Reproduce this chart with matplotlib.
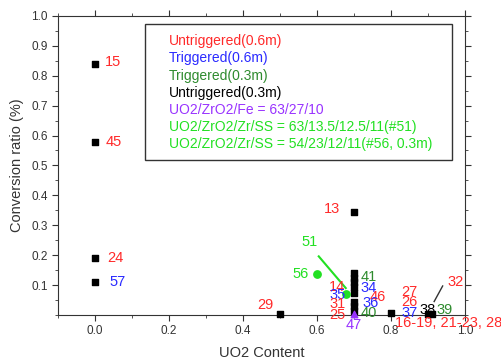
import numpy as np
import matplotlib.pyplot as plt
from matplotlib.ticker import MultipleLocator

plt.rcParams['font.family'] = ['Liberation Sans', 'DejaVu Sans']

# black square points (UO2 content, conversion ratio)
sq_x = [0.0, 0.0, 0.0, 0.0, 0.5, 0.7, 0.7, 0.7, 0.7, 0.7, 0.7, 0.7, 0.7, 0.7, 0.8, 0.9, 0.91]
sq_y = [0.84, 0.577, 0.19, 0.11, 0.004, 0.345, 0.14, 0.125, 0.11, 0.095, 0.075, 0.045, 0.03, 0.015, 0.008, 0.003, 0.003]

# special compositions
fe_x, fe_y = [0.7], [0.005]              # UO2/ZrO2/Fe (#47)
ss_x, ss_y = [0.6, 0.68], [0.137, 0.07]  # UO2/ZrO2/Zr/SS (#56, #51)

# point labels: text, x, y, colour
red, blue, dgreen, purple, lgreen = '#ff2a2a', '#2a2aff', '#2e8b2e', '#9933ff', '#22e022'
labels = [
    ('15', 0.05, 0.845, red), ('45', 0.05, 0.577, red), ('24', 0.055, 0.19, red),
    ('57', 0.06, 0.11, blue), ('29', 0.46, 0.033, red), ('13', 0.64, 0.355, red),
    ('51', 0.58, 0.245, lgreen), ('56', 0.555, 0.137, lgreen),
    ('14', 0.655, 0.095, red), ('35', 0.655, 0.067, blue), ('31', 0.655, 0.037, red),
    ('25', 0.655, 0.0, red), ('41', 0.74, 0.128, dgreen), ('34', 0.74, 0.09, blue),
    ('46', 0.765, 0.06, red), ('36', 0.745, 0.04, blue), ('40', 0.74, 0.007, dgreen),
    ('47', 0.7, -0.035, purple), ('27', 0.85, 0.077, red), ('26', 0.85, 0.043, red),
    ('37', 0.85, 0.008, blue), ('38', 0.9, 0.016, 'black'), ('39', 0.945, 0.016, dgreen),
    ('32', 0.975, 0.11, red),
]
long_label = '16-19, 21-23, 28'

legend_lines = [
    ('Untriggered(0.6m)', red),
    ('Triggered(0.6m)', blue),
    ('Triggered(0.3m)', dgreen),
    ('Untriggered(0.3m)', 'black'),
    ('UO2/ZrO2/Fe = 63/27/10', purple),
    ('UO2/ZrO2/Zr/SS = 63/13.5/12.5/11(#51)', lgreen),
    ('UO2/ZrO2/Zr/SS = 54/23/12/11(#56, 0.3m)', lgreen),
]

fig = plt.figure(figsize=(5.02, 3.6), dpi=100)
ax = fig.add_axes([0.1155, 0.125, 0.8105, 0.831])

ax.scatter(sq_x, sq_y, marker='s', s=22, color='black', zorder=3, clip_on=False)
ax.scatter(fe_x, fe_y, marker='^', s=22, color=purple, zorder=4, clip_on=False)
ax.scatter(ss_x, ss_y, marker='o', s=28, color=lgreen, zorder=4)

# lines pointing from labels to points
ax.plot([0.605, 0.678], [0.196, 0.09], color=lgreen, lw=1.5, zorder=3)
ax.plot([0.94, 0.917], [0.097, 0.045], color='#333333', lw=1, zorder=3)

for txt, x, y, c in labels:
    ax.text(x, y, txt, color=c, fontsize=10.5, ha='center', va='center', clip_on=False, zorder=5)
ax.text(0.81, -0.028, long_label, color=red, fontsize=10.5, ha='left', va='center', clip_on=False, zorder=5)

# legend-like text box
ax.add_patch(plt.Rectangle((0.134, 0.517), 0.831, 0.456, fill=False, ec='#333333', lw=1, zorder=2))
for i, (txt, c) in enumerate(legend_lines):
    ax.text(0.2, 0.915 - i * 0.0575, txt, color=c, fontsize=10, ha='left', va='center')

ax.set_xlim(-0.1, 1.0)
ax.set_ylim(0, 1.0)
ax.xaxis.set_minor_locator(MultipleLocator(0.1))
ax.yaxis.set_minor_locator(MultipleLocator(0.05))
ax.set_yticks(np.arange(0.1, 1.01, 0.1))
ax.set_yticklabels([f'{v:.1f}' for v in np.arange(0.1, 1.01, 0.1)])
ax.set_xticks(np.arange(0.0, 1.01, 0.2))
ax.set_xticklabels([f'{v:.1f}' for v in np.arange(0.0, 1.01, 0.2)])
ax.tick_params(which='both', direction='out', top=True, right=True, labelsize=8.5, colors='#333333')
ax.tick_params(which='major', length=4)
ax.tick_params(which='minor', length=2.5)
for s in ax.spines.values():
    s.set_color('#333333')

ax.set_xlabel('UO2 Content', fontsize=10.5, color='#333333', labelpad=6)
ax.set_ylabel('Conversion ratio (%)', fontsize=10.5, color='#333333', labelpad=5)

fig.savefig('out.png', dpi=100)
